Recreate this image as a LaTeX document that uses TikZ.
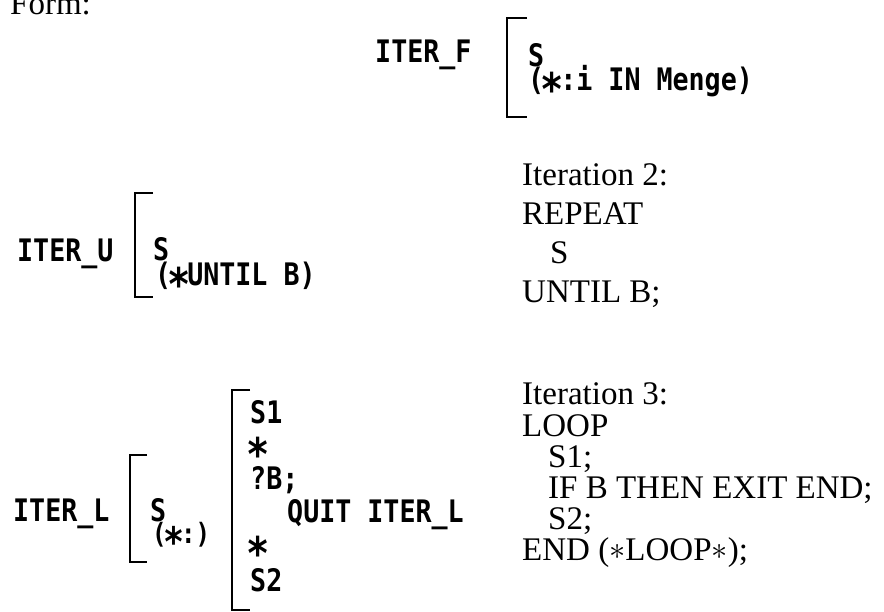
\documentclass[tikz,border=0pt]{standalone}
\usepackage{fontspec}
\setmainfont{Liberation Serif}
\newfontfamily\scrfont[FakeStretch=0.86]{DejaVu Sans Mono}
\newcommand\myast{\makebox[\fontcharwd\font`\*][c]{\raisebox{-0.47em}{\scalebox{1.45}{*}}}}
\newcommand\mathast{\raisebox{0.02em}{\scalebox{1.3}{$\ast$}}}
\tikzset{
  mono/.style={inner sep=0pt, anchor=base west, font=\scrfont\bfseries\fontsize{31}{31}\selectfont},
  monosm/.style={inner sep=0pt, anchor=base west, font=\scrfont\bfseries\fontsize{28}{28}\selectfont},
  serif/.style={inner sep=0pt, anchor=base west, font=\fontsize{33}{33}\selectfont},
  brk/.style={line width=2.6pt, line join=miter}
}
\begin{document}
\begin{tikzpicture}[x=1pt,y=-1pt]
\useasboundingbox (0,0) rectangle (884,612);
\fill[white] (0,0) rectangle (884,612);

% heading
\node[serif] (form) at (10,15) {Form:};

% ITER_F
\node[mono] (itf) at (375,63) {ITER\_F};
\draw[brk] (527,18) -- (507,18) -- (507,117) -- (527,117);
\node[mono] (fs) at (528,67) {S};
\node[mono] (fm) at (528,91) {(\myast:i IN Menge)};

% ITER_U
\node[mono] (itu) at (17,262) {ITER\_U};
\draw[brk] (153,193) -- (135,193) -- (135,297) -- (153,297);
\node[mono] (us) at (153,261) {S};
\node[mono] (uu) at (155,286) {(\myast UNTIL B)};

% Iteration 2
\node[serif] (i2) at (522,186) {Iteration 2:};
\node[serif] (rep) at (522,225) {REPEAT};
\node[serif] (rs) at (550,264) {S};
\node[serif] (ub) at (522,303) {UNTIL B;};

% ITER_L
\node[mono] (itl) at (13,521) {ITER\_L};
\draw[brk] (147,455) -- (130,455) -- (130,562) -- (147,562);
\node[mono] (ls) at (150,521) {S};
\node[monosm] (lc) at (152,543) {(\myast:)};
\draw[brk] (250,390) -- (232,390) -- (232,610) -- (250,610);
\node[mono] (s1) at (250,424) {S1};
\node[mono] (a1) at (250,456) {\myast};
\node[mono] (qb) at (250,489) {?B;};
\node[mono] (qu) at (287,522) {QUIT ITER\_L};
\node[mono] (a2) at (250,555) {\myast};
\node[mono] (s2) at (250,591) {S2};

% Iteration 3
\node[serif] (i3) at (522,405) {Iteration 3:};
\node[serif] (lp) at (522,436) {LOOP};
\node[serif] (ls1) at (548,467) {S1;};
\node[serif] (lif) at (548,498) {IF B THEN EXIT END;};
\node[serif] (ls2) at (548,529) {S2;};
\node[serif] (lend) at (522,560) {END (\mathast LOOP\mathast);};
\end{tikzpicture}
\end{document}
